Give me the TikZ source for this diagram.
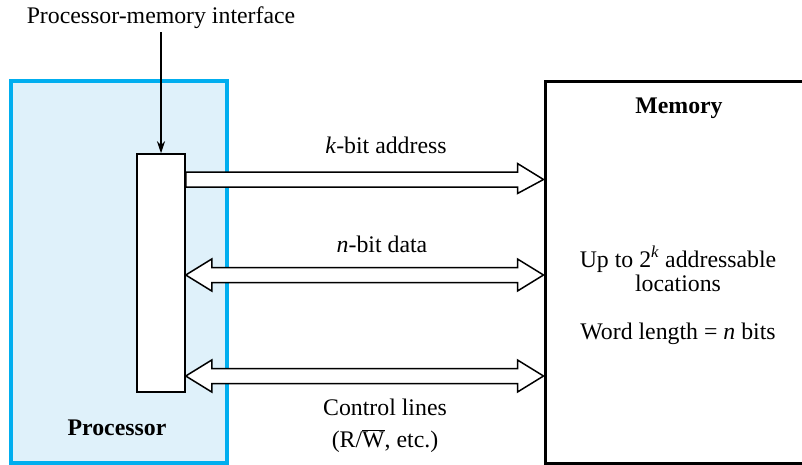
\documentclass[tikz,border=0pt]{standalone}
\usepackage{fontspec}
\setmainfont{Liberation Serif}
\usetikzlibrary{calc,arrows.meta}
\definecolor{procblue}{RGB}{0,174,239}
\definecolor{procfill}{RGB}{223,241,250}
\tikzset{
  lbl/.style={font=\fontsize{23.8}{28}\selectfont, inner sep=0pt, anchor=base},
  boldlbl/.style={lbl, font=\fontsize{23.8}{28}\selectfont\bfseries},
  procbox/.style={draw=procblue, fill=procfill, line width=4pt, rectangle, inner sep=0pt},
  membox/.style={draw=black, fill=white, line width=3pt, rectangle, inner sep=0pt},
  ifbox/.style={draw=black, fill=white, line width=1.5pt, rectangle, inner sep=0pt},
  bus/.style={draw=black, fill=white, line width=1.5pt, line join=miter},
  pointer/.style={line width=1.5pt, -{Stealth[length=12pt,width=8pt]}}
}
\begin{document}
\begin{tikzpicture}[x=1pt,y=-1pt]
\useasboundingbox (0,0) rectangle (802,464);
\clip (0,0) rectangle (802,464);
% boxes
\node[procbox, minimum width=216pt, minimum height=382pt] (proc) at (118.5,272) {};
\node[membox, minimum width=270pt, minimum height=382pt] (mem) at (680,272) {};
\node[ifbox, minimum width=48pt, minimum height=238pt] (iface) at (161,273) {};
% labels
\node[lbl] (iflabel) at (161,23) {Processor-memory interface};
\node[boldlbl] (proclabel) at (117,435) {Processor};
\node[boldlbl] (memlabel) at (679,113) {Memory};
\node[lbl] (m1) at (678,267) {Up to 2\textsuperscript{\textit{k}} addressable};
\node[lbl] (m2) at (678,291.5) {locations};
\node[lbl] (m3) at (678,339.3) {Word length = \textit{n} bits};
\node[lbl] (addr) at (386,153) {\textit{k}-bit address};
\node[lbl] (data) at (382,252) {\textit{n}-bit data};
\node[lbl] (ctl1) at (385,415) {Control lines};
\node[lbl] (ctl2) at (385,447) {(R/$\overline{\mbox{W}}$, etc.)};
% pointer
\coordinate (ptop) at (161,32);
\draw[pointer] (ptop) -- (iface.north);
% bus arrows
\coordinate (a1) at (iface.east |- 0,179.5);
\coordinate (a2) at (mem.west |- 0,179.5);
\draw[bus] ($(a1)+(0,-7.5)$) -- ($(a2)+(-26,-7.5)$) -- ($(a2)+(-26,-16)$) -- (a2)
  -- ($(a2)+(-26,14)$) -- ($(a2)+(-26,7.5)$) -- ($(a1)+(0,7.5)$) -- cycle;
\coordinate (d1) at (iface.east |- 0,275);
\coordinate (d2) at (mem.west |- 0,275);
\draw[bus] (d1) -- ($(d1)+(26,-16)$) -- ($(d1)+(26,-7.5)$) -- ($(d2)+(-26,-7.5)$)
  -- ($(d2)+(-26,-16)$) -- (d2) -- ($(d2)+(-26,16)$) -- ($(d2)+(-26,7.5)$)
  -- ($(d1)+(26,7.5)$) -- ($(d1)+(26,16)$) -- cycle;
\coordinate (c1) at (iface.east |- 0,376);
\coordinate (c2) at (mem.west |- 0,376);
\draw[bus] (c1) -- ($(c1)+(26,-16)$) -- ($(c1)+(26,-7.5)$) -- ($(c2)+(-26,-7.5)$)
  -- ($(c2)+(-26,-16)$) -- (c2) -- ($(c2)+(-26,16)$) -- ($(c2)+(-26,7.5)$)
  -- ($(c1)+(26,7.5)$) -- ($(c1)+(26,16)$) -- cycle;
\end{tikzpicture}
\end{document}
